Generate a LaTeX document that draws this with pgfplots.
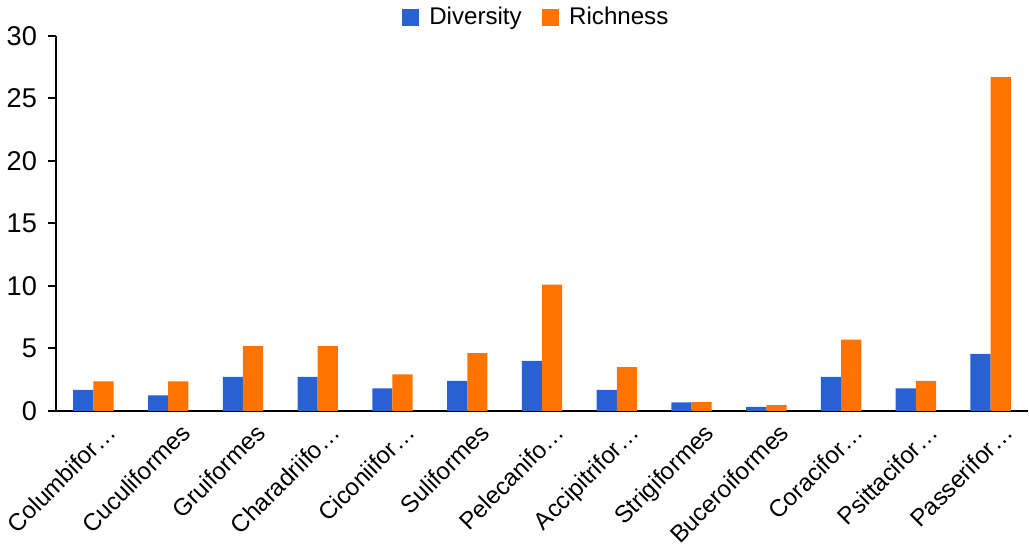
\documentclass[border=0pt]{standalone}
\usepackage{fontspec}
\setmainfont{Liberation Sans}
\usepackage{pgfplots}
\pgfplotsset{compat=1.18}
\definecolor{divblue}{RGB}{40,98,210}
\definecolor{richorange}{RGB}{255,115,0}
\begin{document}
\begin{tikzpicture}
\begin{axis}[
  scale only axis,
  width=483.5pt, height=186.5pt,
  ybar=0pt, bar width=0.27,
  xmin=-0.5, xmax=12.5,
  ymin=0, ymax=30,
  ytick={0,5,...,30},
  xtick={0,...,12},
  xticklabels={Columbifor…,Cuculiformes,Gruiformes,Charadriifo…,Ciconiifor…,Suliformes,Pelecanifo…,Accipitrifor…,Strigiformes,Buceroiformes,Coracifor…,Psittacifor…,Passerifor…},
  axis x line*=bottom, axis y line*=left,
  axis line style={line width=1pt, black},
  x tick style={draw=none},
  y tick style={line width=1pt, black},
  major tick length=4pt,
  tick align=outside,
  /pgf/number format/assume math mode=true,
  yticklabel style={font=\fontsize{13.5}{15}\selectfont, xshift=-2pt},
  xticklabel style={font=\fontsize{12}{14}\selectfont, rotate=45, anchor=north east, inner sep=0pt, xshift=3pt, yshift=-5pt},
  legend style={at={(0.495,1)}, anchor=south, yshift=0.5pt, legend columns=2, draw=none, fill=none,
    font=\fontsize{12}{14}\selectfont, inner sep=1.5pt,
    /tikz/every odd column/.append style={column sep=3pt},
    /tikz/every even column/.append style={column sep=8pt}},
  legend image code/.code={\fill[#1] (0pt,-4.3pt) rectangle (8.6pt,4.3pt);},
]
\addplot[fill=divblue, draw=none] coordinates {
  (0,1.69) (1,1.24) (2,2.72) (3,2.72) (4,1.80) (5,2.40) (6,4.00)
  (7,1.69) (8,0.68) (9,0.32) (10,2.72) (11,1.80) (12,4.57)};
\addplot[fill=richorange, draw=none] coordinates {
  (0,2.37) (1,2.37) (2,5.19) (3,5.19) (4,2.93) (5,4.63) (6,10.1)
  (7,3.50) (8,0.70) (9,0.46) (10,5.70) (11,2.40) (12,26.7)};
\legend{Diversity, Richness}
\end{axis}
\end{tikzpicture}
\end{document}
